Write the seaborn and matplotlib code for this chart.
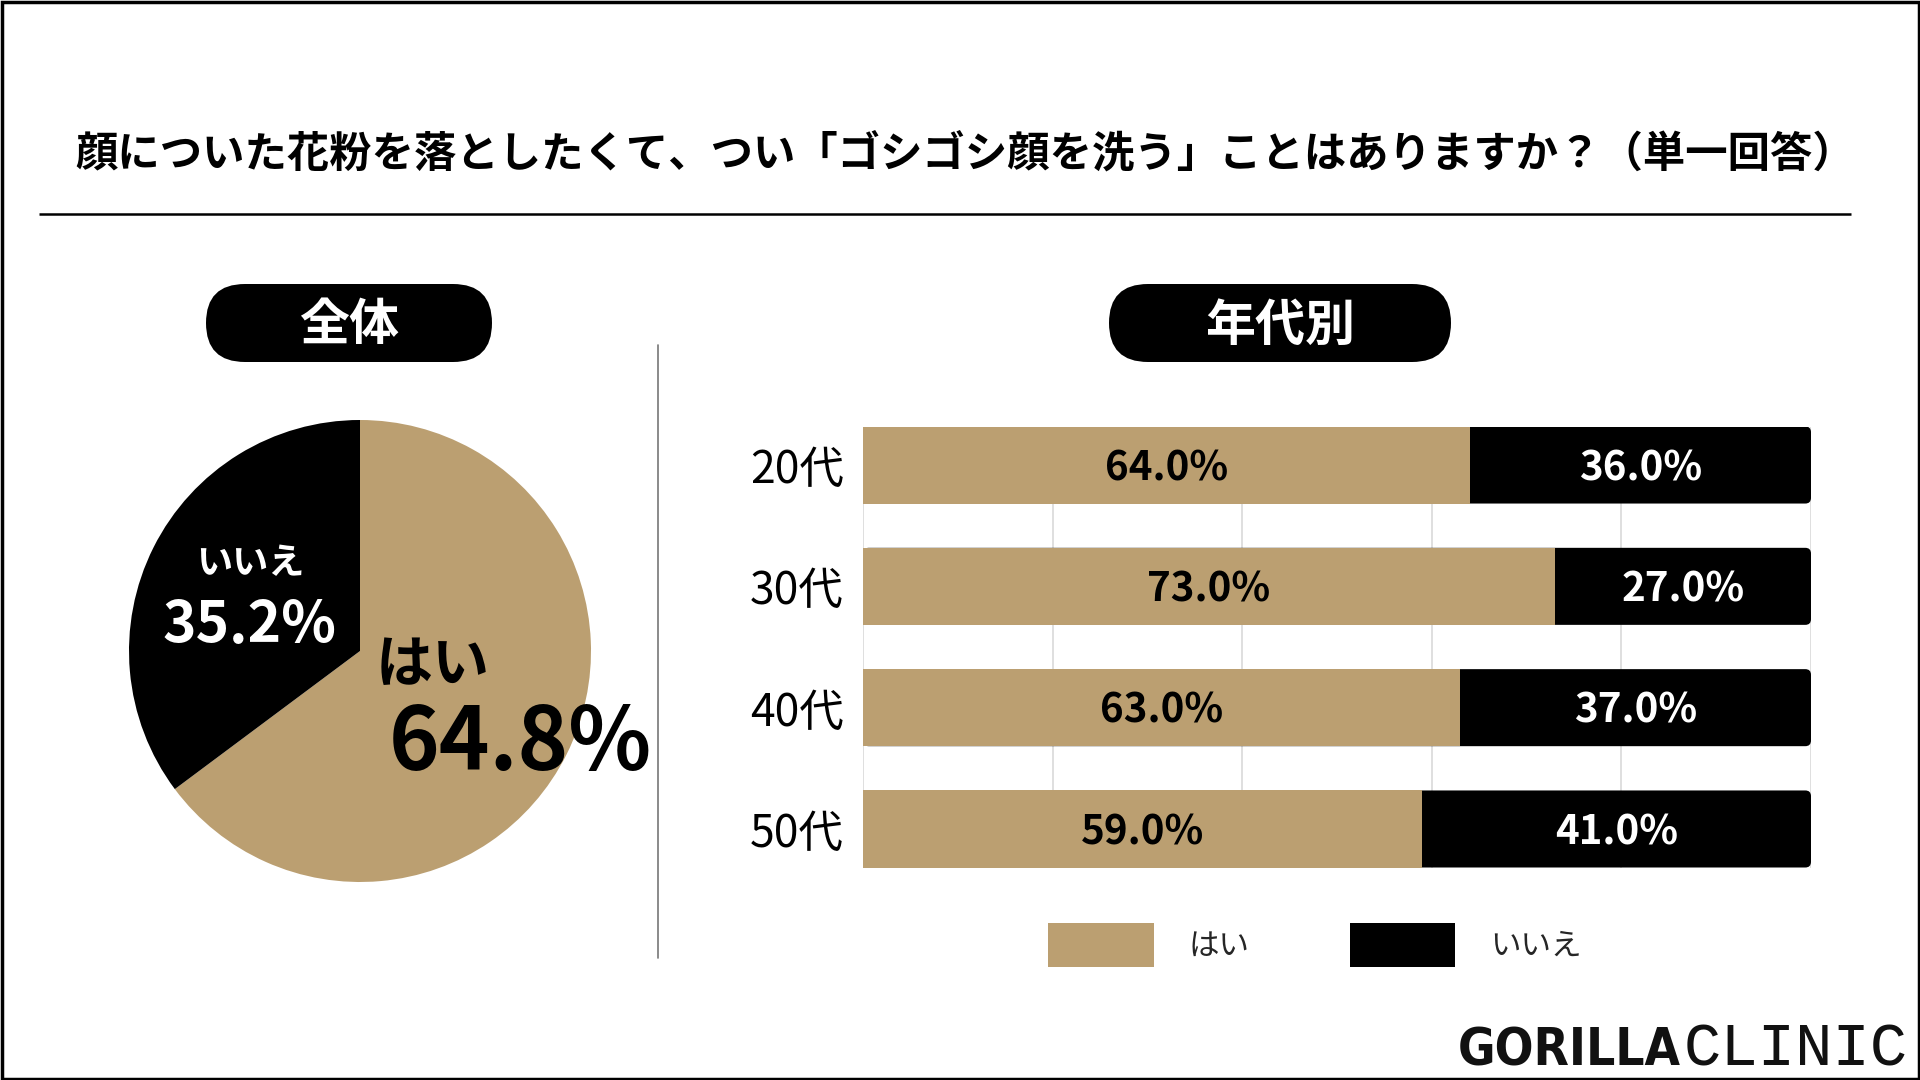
import matplotlib
matplotlib.use('Agg')
import matplotlib.pyplot as plt
import seaborn as sns
import pandas as pd
from matplotlib.patches import FancyBboxPatch, Rectangle, Patch
from matplotlib import font_manager

# ---------------- data ----------------
title = "顔についた花粉を落としたくて、つい「ゴシゴシ顔を洗う」ことはありますか？（単一回答）"
overall_labels = ["はい", "いいえ"]
overall_values = [64.8, 35.2]
age_groups = ["20代", "30代", "40代", "50代"]
yes_values = [64.0, 73.0, 63.0, 59.0]
no_values = [36.0, 27.0, 37.0, 41.0]
panel_titles = ["全体", "年代別"]
logo_bold = "GORILLA"
logo_light = "CLINIC"

TAN = "#BB9F71"
BLACK = "#000000"

sns.set_theme(style="white")
plt.rcParams['font.family'] = ['Noto Sans CJK JP', 'DejaVu Sans']

W, H = 1920, 1080
fig = plt.figure(figsize=(19.2, 10.8), dpi=100)
fig.patch.set_facecolor('white')


def rect(x0, y0, x1, y1):
    return [x0 / W, 1 - y1 / H, (x1 - x0) / W, (y1 - y0) / H]


# ---------------- overlay (pixel coordinates) ----------------
ov = fig.add_axes([0, 0, 1, 1], zorder=0)
ov.set_xlim(0, W)
ov.set_ylim(H, 0)
ov.axis('off')

ov.add_patch(Rectangle((1.5, 1.5), W - 3, H - 3, fill=False, lw=2.5, ec='black'))
ov.text(965, 155, title, ha='center', va='center', fontsize=30.5, fontweight='bold', color='black')
ov.plot([39, 1851], [214, 214], color='black', lw=1.8, solid_capstyle='butt')

for (x0, x1), lab in zip([(206, 492), (1109, 1451)], panel_titles):
    ov.add_patch(FancyBboxPatch((x0, 284), x1 - x0, 78,
                                boxstyle="round,pad=0,rounding_size=39",
                                fc='black', ec='none'))
    ov.text((x0 + x1) / 2, 326, lab, ha='center', va='center', fontsize=36,
            fontweight='bold', color='white')

ov.plot([658, 658], [345, 958], color='#777777', lw=1.2)

# ---------------- pie ----------------
axp = fig.add_axes(rect(129, 420, 591, 882), zorder=2)
axp.pie(overall_values, colors=[TAN, BLACK], startangle=90, counterclock=False,
        radius=1, wedgeprops=dict(linewidth=0))
axp.set_xlim(-1, 1)
axp.set_ylim(-1, 1)
axp.set_aspect('equal')
axp.axis('off')


def pp(x, y):
    return (x - 360) / 231, (651 - y) / 231


x, y = pp(250, 564)
axp.text(x, y, overall_labels[1], ha='center', va='center', fontsize=26,
         fontweight='bold', color='white', clip_on=False)
x, y = pp(249, 626)
axp.text(x, y, f"{overall_values[1]:.1f}%", ha='center', va='center', fontsize=41,
         fontweight='bold', color='white', clip_on=False)
x, y = pp(433, 665)
axp.text(x, y, overall_labels[0], ha='center', va='center', fontsize=41,
         fontweight='bold', color='black', clip_on=False)
x, y = pp(520, 745)
axp.text(x, y, f"{overall_values[0]:.1f}%", ha='center', va='center', fontsize=62,
         fontweight='bold', color='black', clip_on=False)

# ---------------- stacked bars ----------------
df = pd.DataFrame({'age': age_groups, 'yes': yes_values, 'no': no_values})
df['total'] = df['yes'] + df['no']

axb = fig.add_axes(rect(863, 426.5, 1811, 867.5), zorder=2)
sns.barplot(data=df, y='age', x='total', color=BLACK, orient='h', width=0.635,
            saturation=1, linewidth=0, ax=axb)
n_black = len(axb.patches)
sns.barplot(data=df, y='age', x='yes', color=TAN, orient='h', width=0.635,
            saturation=1, linewidth=0, ax=axb)
axb.set_xlim(0, 100)
axb.set_ylim(3 + 0.3175, -0.3175)

# round the right-hand corners of the full-length (black) bars
px_per_x = 948 / 100.0
px_per_y = 441 / (3 + 0.635)
for p in list(axb.patches)[:n_black]:
    bx, by = p.get_x(), p.get_y()
    bw, bh = p.get_width(), p.get_height()
    p.set_visible(False)
    axb.add_patch(FancyBboxPatch((bx, by), bw, bh,
                                 boxstyle="round,pad=0,rounding_size=0.6",
                                 mutation_aspect=px_per_x / px_per_y,
                                 fc=BLACK, ec='none', zorder=0.9))

axb.set_xticks([0, 20, 40, 60, 80, 100])
axb.xaxis.grid(True, color='#d9d9d9', lw=1.2)
axb.yaxis.grid(False)
axb.set_axisbelow(True)
axb.tick_params(axis='x', length=0, labelbottom=False)
axb.tick_params(axis='y', length=0, pad=14, labelsize=32, labelcolor='black')
axb.set_xlabel('')
axb.set_ylabel('')
for s in axb.spines.values():
    s.set_visible(False)
axb.patch.set_alpha(0)

for i, (yv, nv) in enumerate(zip(yes_values, no_values)):
    axb.text(yv / 2, i + 0.03, f"{yv:.1f}%", ha='center', va='center', fontsize=29,
             fontweight='bold', color='black', zorder=5)
    axb.text(yv + nv / 2, i + 0.03, f"{nv:.1f}%", ha='center', va='center', fontsize=29,
             fontweight='bold', color='white', zorder=5)

# ---------------- legend ----------------
handles = [Patch(facecolor=TAN, edgecolor='none'), Patch(facecolor=BLACK, edgecolor='none')]
fig.legend(handles, overall_labels, loc='center', bbox_to_anchor=(1315 / W, 1 - 945 / H),
           ncol=2, frameon=False, fontsize=22, handlelength=3.46, handleheight=1.85,
           handletextpad=1.14, columnspacing=3.27)

# ---------------- logo ----------------
cond = None
for f in font_manager.fontManager.ttflist:
    nm = f.fname.lower()
    if ('condensed' in nm or 'narrow' in nm) and f.weight in ('bold', 700, 'heavy', 800, 900, 'black'):
        cond = f.fname
        break
if cond:
    bold_props = dict(fontproperties=font_manager.FontProperties(fname=cond))
else:
    bold_props = dict(family='DejaVu Sans', fontweight='bold')

t1 = ov.text(1681, 1066, logo_bold, ha='right', va='baseline', fontsize=40,
             color='#111111', **bold_props)
t2 = ov.text(1684, 1066, logo_light, ha='left', va='baseline', fontsize=45,
             family='Liberation Mono', color='#111111')
fig.canvas.draw()
r = fig.canvas.get_renderer()
for t, target in ((t1, 223), (t2, 224)):
    wpx = t.get_window_extent(r).width
    t.set_fontsize(t.get_fontsize() * target / wpx)

fig.savefig('out.png', dpi=100, facecolor='white')
